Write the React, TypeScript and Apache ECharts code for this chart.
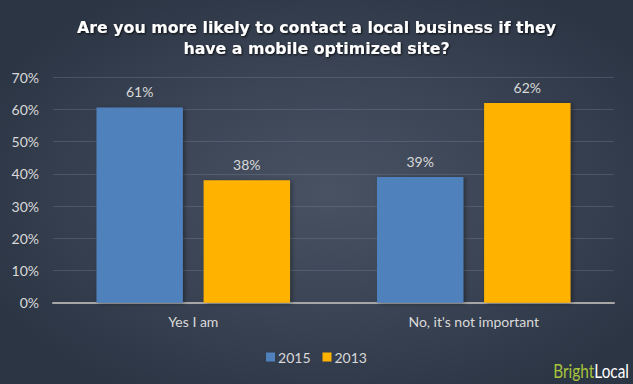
import React, { useEffect, useRef } from "react";
import * as echarts from "echarts";

const categories = ["Yes I am", "No, it's not important"];
const values2015 = [60.6, 39];
const values2013 = [38, 62];
const seriesNames = ["2015", "2013"];
const yTicks = [0, 10, 20, 30, 40, 50, 60, 70];
const titleLines = ["Are you more likely to contact a local business if they", "have a mobile optimized site?"];

export default function App() {
  const ref = useRef<HTMLDivElement>(null);
  useEffect(() => {
    if (!ref.current) return;
    const chart = echarts.init(ref.current, undefined, { renderer: "svg" });
    const labelColor = "#d9d9d9";
    const font = "Lato";
    chart.setOption({
      animation: false,
      backgroundColor: "transparent",
      title: {
        text: titleLines.join("\n"),
        left: "center",
        top: 12,
        textStyle: {
          color: "#ffffff",
          fontFamily: "DejaVu Sans",
          fontWeight: "bold",
          fontSize: 15.8,
          lineHeight: 21,
          textShadowColor: "rgba(0,0,0,0.8)",
          textShadowBlur: 2,
          textShadowOffsetX: 1,
          textShadowOffsetY: 1,
        },
      },
      grid: { left: 53, right: 19, top: 77.3, bottom: 81.3, containLabel: false },
      legend: {
        data: seriesNames,
        bottom: 15,
        left: "center",
        itemWidth: 9,
        itemHeight: 9,
        itemGap: 12,
        icon: "rect",
        textStyle: { color: labelColor, fontFamily: font, fontSize: 14, padding: [0, 0, 0, -2] },
      },
      xAxis: {
        type: "category",
        data: categories,
        axisLine: { show: true, lineStyle: { color: "#a6a6a6", width: 2 } },
        axisTick: { show: false },
        axisLabel: { color: labelColor, fontFamily: font, fontSize: 14, margin: 12 },
      },
      yAxis: {
        type: "value",
        min: yTicks[0],
        max: yTicks[yTicks.length - 1],
        interval: 10,
        axisLine: { show: false },
        axisTick: { show: false },
        axisLabel: { color: labelColor, fontFamily: font, fontSize: 14, margin: 14, formatter: "{value}%" },
        splitLine: { lineStyle: { color: "rgba(120,132,150,0.35)", width: 1 } },
      },
      series: [
        {
          name: seriesNames[0],
          type: "bar",
          data: values2015,
          barWidth: "30.8%",
          barGap: "24%",
          itemStyle: { color: "#4f81bd", shadowColor: "rgba(0,0,0,0.35)", shadowBlur: 4, shadowOffsetX: 2, shadowOffsetY: 1 },
          label: {
            show: true,
            position: "top",
            distance: 9,
            color: labelColor,
            fontFamily: font,
            fontSize: 14,
            formatter: (p: any) => Math.round(p.value) + "%",
          },
        },
        {
          name: seriesNames[1],
          type: "bar",
          data: values2013,
          barWidth: "30.8%",
          itemStyle: { color: "#ffb300", shadowColor: "rgba(0,0,0,0.35)", shadowBlur: 4, shadowOffsetX: 2, shadowOffsetY: 1 },
          label: {
            show: true,
            position: "top",
            distance: 9,
            color: labelColor,
            fontFamily: font,
            fontSize: 14,
            formatter: (p: any) => Math.round(p.value) + "%",
          },
        },
      ],
      graphic: [
        {
          type: "text",
          x: 629,
          y: 370,
          scaleX: 0.77,
          scaleY: 1,
          style: {
            text: "{a|Bright}{b|Local}",
            verticalAlign: "middle",
            align: "right",
            rich: {
              a: { fill: "#a8c43c", fontFamily: "Lato", fontSize: 20 },
              b: { fill: "#ffffff", fontFamily: "Lato", fontSize: 20 },
            },
          },
        },
      ],
    });
    return () => chart.dispose();
  }, []);
  return (
    <div
      ref={ref}
      style={{
        position: "absolute",
        left: 0,
        top: 0,
        width: 633,
        height: 384,
        background: "radial-gradient(ellipse 60% 60% at 52% 50%, #485263 0%, #3a4353 55%, #2c3544 100%)",
      }}
    />
  );
}
